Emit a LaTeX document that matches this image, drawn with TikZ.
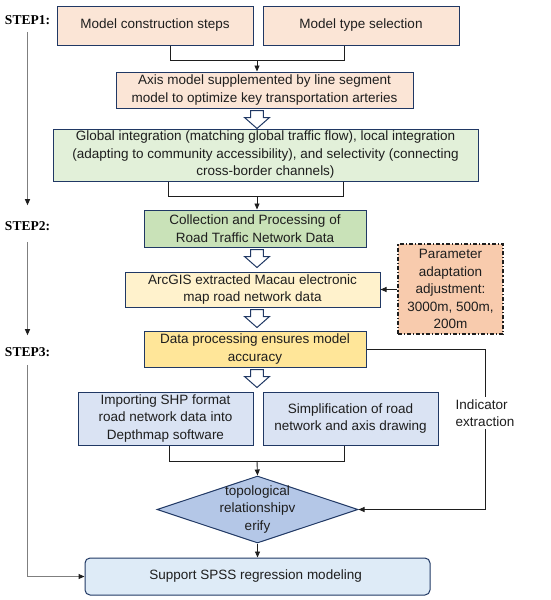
\documentclass[tikz,border=0pt]{standalone}
\usepackage{fontspec}
\setmainfont{Liberation Sans}
\newfontfamily\stepfont{Liberation Serif}
\usetikzlibrary{
  arrows.meta,
  shapes.geometric
}
\definecolor{fcInk}{HTML}{203864}
\definecolor{fcText}{HTML}{1E1E1E}
\definecolor{fcLine}{HTML}{1E1E1E}
\definecolor{fcGray}{HTML}{7F7F7F}
\definecolor{fcPeach}{HTML}{FBE5D6}
\definecolor{fcGreenL}{HTML}{E2F0D9}
\definecolor{fcGreen}{HTML}{C9E2B8}
\definecolor{fcYellowL}{HTML}{FFF2CC}
\definecolor{fcYellow}{HTML}{FFE699}
\definecolor{fcOrange}{HTML}{F8CBAD}
\definecolor{fcBlueL}{HTML}{DAE3F3}
\definecolor{fcBlue}{HTML}{B4C7E7}
\definecolor{fcSky}{HTML}{DEEBF7}
\newcommand{\boxfont}{\fontsize{13.5}{17.5}\selectfont}
\tikzset{
  block/.style={
    draw=fcInk,
    line width=1pt,
    align=center,
    text=fcText,
    font=\boxfont,
    inner sep=1pt
  },
  peach/.style={block, fill=fcPeach},
  greenl/.style={block, fill=fcGreenL},
  greenbox/.style={block, fill=fcGreen},
  yellowl/.style={block, fill=fcYellowL},
  yellowbox/.style={block, fill=fcYellow},
  bluel/.style={block, fill=fcBlueL},
  paramblock/.style={
    block,
    fill=fcOrange,
    draw=fcText,
    line width=1.3pt,
    dash pattern=on 4pt off 2pt on 1.2pt off 2pt
  },
  decision/.style={
    diamond,
    draw=fcInk,
    line width=1pt,
    fill=fcBlue,
    inner sep=0pt
  },
  final/.style={block, fill=fcSky, rounded corners=5pt},
  steplabel/.style={font=\stepfont\bfseries\fontsize{13.5}{16}\selectfont, inner sep=0pt},
  indlabel/.style={font=\boxfont, text=fcText, align=left, fill=white, inner sep=2pt},
  line/.style={draw=fcLine, line width=0.9pt},
  arrow/.style={line, -{Triangle[length=6pt,width=5pt]}},
  steparrow/.style={draw=fcGray, line width=1pt, -{Triangle[length=6pt,width=5pt,color=fcLine]}},
  pics/hollowdown/.style={code={
    \draw[draw=fcInk, fill=white, line width=1pt, line join=miter]
      (-6.3,2) -- (6.3,2) -- (6.3,9) -- (12.5,9) -- (0,20) -- (-12.5,9) -- (-6.3,9) -- cycle;
  }}
}

\begin{document}
\begin{tikzpicture}[x=1pt,y=-1pt]
\useasboundingbox (0,0) rectangle (550,600);

% --------------------------------------------------------------------------
% Step 1
% --------------------------------------------------------------------------
\node[peach, minimum width=196, minimum height=39] (cons) at (155,25.5) {Model construction steps};
\node[peach, minimum width=196, minimum height=39] (mtype) at (361,25.5) {Model type selection};

\node[peach, minimum width=297, minimum height=36] (axis) at (264.5,90) {
  Axis model supplemented by line segment\\
  model to optimize key transportation arteries
};

\node[greenl, minimum width=425, minimum height=52] (glob) at (265.5,155) {
  Global integration (matching global traffic flow), local integration\\
  (adapting to community accessibility), and selectivity (connecting\\
  cross-border channels)
};

\coordinate (j1) at (257,60);
\coordinate (j1l) at (170,60);
\coordinate (j1r) at (344,60);
\draw[line] (cons.south -| j1l) -- (j1l) -- (j1r) -- (mtype.south -| j1r);
\draw[arrow] (j1) -- (j1 |- axis.north);
\pic at (axis.south -| j1) {hollowdown};

% --------------------------------------------------------------------------
% Step 2
% --------------------------------------------------------------------------
\node[greenbox, minimum width=222, minimum height=37] (coll) at (255,228.5) {
  Collection and Processing of\\
  Road Traffic Network Data
};

\node[yellowl, minimum width=255, minimum height=35] (arc) at (252.5,289.5) {
  ArcGIS extracted Macau electronic\\
  map road network data
};

\node[paramblock, minimum width=105, minimum height=90] (param) at (450.5,289) {
  Parameter\\
  adaptation\\
  adjustment:\\
  3000m, 500m,\\
  200m
};

\coordinate (j2) at (257,196);
\coordinate (j2l) at (168,196);
\coordinate (j2r) at (343,196);
\draw[line] (glob.south -| j2l) -- (j2l) -- (j2r) -- (glob.south -| j2r);
\draw[arrow] (j2) -- (j2 |- coll.north);
\pic at (coll.south -| j2) {hollowdown};
\draw[arrow] (param.west |- arc.east) -- (arc.east);

% --------------------------------------------------------------------------
% Step 3
% --------------------------------------------------------------------------
\node[yellowbox, minimum width=222, minimum height=36] (proc) at (255,349) {
  Data processing ensures model\\
  accuracy
};
\pic at (arc.south -| j2) {hollowdown};

\node[bluel, minimum width=175, minimum height=53] (shp) at (165.5,418.5) {
  Importing SHP format\\
  road network data into\\
  Depthmap software
};
\node[bluel, minimum width=175, minimum height=53] (simp) at (350.5,418.5) {
  Simplification of road\\
  network and axis drawing
};
\pic at (proc.south -| j2) {hollowdown};

\node[decision, minimum width=201, minimum height=67,
  label={[font=\boxfont, text=fcText, align=center]center:topological\\relationshipv\\erify}]
  (diam) at (257.5,509.5) {};

\node[final, minimum width=345, minimum height=37] (spss) at (257.5,576.5) {
  Support SPSS regression modeling
};

\coordinate (j3) at (257,461);
\coordinate (j3l) at (169,461);
\coordinate (j3r) at (344,461);
\draw[line] (shp.south -| j3l) -- (j3l) -- (j3r) -- (simp.south -| j3r);
\draw[arrow] (j3) -- (diam.north);
\draw[arrow] (diam.south) -- (spss.north);

\coordinate (indx) at (485,0);
\draw[arrow] (proc.east) -- (proc.east -| indx)
  -- node[indlabel, pos=0.4] {Indicator\\extraction} (diam.east -| indx)
  -- (diam.east);

% --------------------------------------------------------------------------
% Step labels
% --------------------------------------------------------------------------
\node[steplabel] (step1) at (27.5,20) {STEP1:};
\node[steplabel] (step2) at (27.5,226) {STEP2:};
\node[steplabel] (step3) at (27.5,352) {STEP3:};

\draw[steparrow, shorten <=7pt, shorten >=16pt] (step1.south) -- (step2.north);
\draw[steparrow, shorten <=11pt, shorten >=12pt] (step2.south) -- (step3.north);
\draw[steparrow, shorten <=8pt] (step3.south) |- (spss.west);

\end{tikzpicture}
\end{document}
